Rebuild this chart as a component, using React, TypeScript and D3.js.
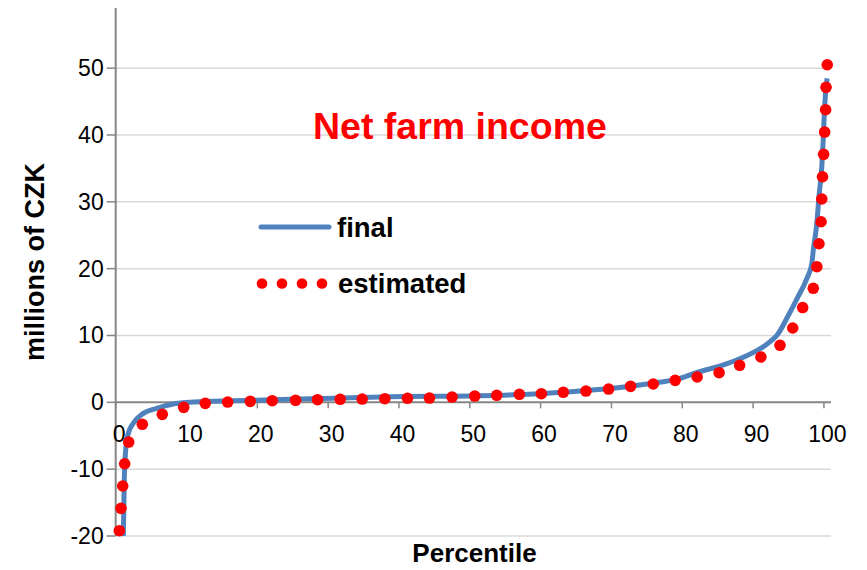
import React from "react";
import * as d3 from "d3";

// "final" series (percentile, millions of CZK)
const finalX = [1.05, 1.21, 1.45, 1.78, 2.48, 3.9, 5.79, 8.13, 10.49, 15.19, 24.6, 38.7, 51.4, 60.9, 65.6, 70.2, 75.0, 79.7, 82.0, 85.5, 87.7, 92.4, 93.4, 95.0, 96.1, 97.6, 98.3, 98.5, 99.0, 99.3, 99.7, 99.9, 100.1, 100.45];
const finalY = [-22, -11.62, -6.64, -4.64, -3.14, -1.65, -0.9, -0.25, 0.0, 0.19, 0.45, 0.84, 0.99, 1.35, 1.69, 2.09, 2.74, 3.59, 4.43, 5.5, 6.33, 9.07, 10.07, 13.06, 15.31, 18.55, 20.8, 22.79, 26.78, 30.76, 35.25, 39.24, 44.23, 48.47];

// "estimated" series (percentile, millions of CZK)
const estX = [0.51, 0.75, 0.99, 1.27, 1.84, 3.76, 6.58, 9.6, 12.65, 15.81, 19.0, 22.1, 25.4, 28.5, 31.7, 34.8, 38.0, 41.2, 44.3, 47.5, 50.7, 53.8, 57.0, 60.1, 63.2, 66.4, 69.6, 72.7, 75.9, 79.0, 82.1, 85.2, 88.1, 91.1, 93.8, 95.6, 97.0, 98.5, 99.0, 99.3, 99.6, 99.7, 99.8, 99.96, 100.1, 100.24, 100.3, 100.47];
const estY = [-19.21, -15.86, -12.52, -9.19, -5.94, -3.29, -1.8, -0.75, -0.15, 0.04, 0.15, 0.24, 0.3, 0.39, 0.45, 0.49, 0.54, 0.6, 0.64, 0.79, 0.94, 1.05, 1.2, 1.29, 1.5, 1.69, 1.99, 2.39, 2.74, 3.29, 3.79, 4.43, 5.54, 6.78, 8.53, 11.12, 14.18, 17.06, 20.29, 23.73, 27.02, 30.42, 33.75, 37.1, 40.44, 43.78, 47.13, 50.51];

const xTicks = [0, 10, 20, 30, 40, 50, 60, 70, 80, 90, 100];
const yTicks = [-20, -10, 0, 10, 20, 30, 40, 50];

const W = 867;
const H = 570;
const FONT = "'Liberation Sans', Arial, sans-serif";

export default function App() {
  const x = d3.scaleLinear().domain([0, 101]).range([115.7, 831]);
  const y = d3.scaleLinear().domain([-20, 59]).range([536, 8]);

  const finalPts: [number, number][] = finalX.map((v, i) => [v, finalY[i]]);
  const estPts: [number, number][] = estX.map((v, i) => [v, estY[i]]);

  const line = d3
    .line<[number, number]>()
    .x((d) => x(d[0]))
    .y((d) => y(d[1]))
    .curve(d3.curveMonotoneX);

  const axisColor = "#868686";
  const gridColor = "#D9D9D9";
  const blue = "#4F81BD";
  const red = "#FF0000";

  return (
    <svg
      width={W}
      height={H}
      style={{ position: "absolute", left: 0, top: 0, background: "#fff" }}
      fontFamily={FONT}
    >
      <defs>
        <clipPath id="plot">
          <rect x={x(0)} y={y(59)} width={x(101) - x(0)} height={y(-20) - y(59)} />
        </clipPath>
      </defs>
      <rect x={0} y={0} width={W} height={H} fill="#fff" />
      {/* gridlines */}
      {yTicks
        .filter((t) => t !== 0)
        .map((t) => (
          <line key={"g" + t} x1={x(0)} x2={x(101)} y1={y(t)} y2={y(t)} stroke={gridColor} strokeWidth={1.5} />
        ))}
      {/* y axis */}
      <line x1={x(0)} x2={x(0)} y1={y(59)} y2={y(-20)} stroke={axisColor} strokeWidth={2} />
      {yTicks.map((t) => (
        <g key={"yt" + t}>
          <line x1={x(0) - 9} x2={x(0)} y1={y(t)} y2={y(t)} stroke={axisColor} strokeWidth={1.5} />
          <text x={x(0) - 12} y={y(t)} textAnchor="end" dominantBaseline="central" fontSize={23} fill="#000">
            {t}
          </text>
        </g>
      ))}
      {/* x axis */}
      <line x1={x(0)} x2={x(101)} y1={y(0)} y2={y(0)} stroke={axisColor} strokeWidth={2} />
      {xTicks.map((t) => (
        <g key={"xt" + t}>
          <line x1={x(t)} x2={x(t)} y1={y(0)} y2={y(0) + 6} stroke={axisColor} strokeWidth={1.5} />
          <text x={x(t) + 3.5} y={434} textAnchor="middle" dominantBaseline="central" fontSize={23} fill="#000">
            {t}
          </text>
        </g>
      ))}
      {/* axis titles */}
      <text
        transform={`translate(35, 262) rotate(-90)`}
        textAnchor="middle"
        dominantBaseline="central"
        fontSize={27}
        fontWeight="bold"
        fill="#000"
      >
        millions of CZK
      </text>
      <text x={474.5} y={553} textAnchor="middle" dominantBaseline="central" fontSize={26} fontWeight="bold" fill="#000">
        Percentile
      </text>
      {/* title */}
      <text x={313} y={139} fontSize={37.5} fontWeight="bold" fill={red}>
        Net farm income
      </text>
      {/* legend */}
      <line x1={261} x2={329} y1={227} y2={227} stroke={blue} strokeWidth={5} strokeLinecap="round" />
      <text x={337} y={227} dominantBaseline="central" fontSize={27.5} fontWeight="bold" fill="#000">
        final
      </text>
      {[0, 1, 2, 3].map((i) => (
        <circle key={"ld" + i} cx={262 + i * 20} cy={283.5} r={5.3} fill={red} />
      ))}
      <text x={338} y={283.5} dominantBaseline="central" fontSize={27.5} fontWeight="bold" fill="#000">
        estimated
      </text>
      {/* series */}
      <g clipPath="url(#plot)">
        <path d={line(finalPts) || ""} fill="none" stroke={blue} strokeWidth={5} strokeLinejoin="round" />
      </g>
      {estPts.map((d, i) => (
        <circle key={"e" + i} cx={x(d[0])} cy={y(d[1])} r={5.8} fill={red} />
      ))}
    </svg>
  );
}
